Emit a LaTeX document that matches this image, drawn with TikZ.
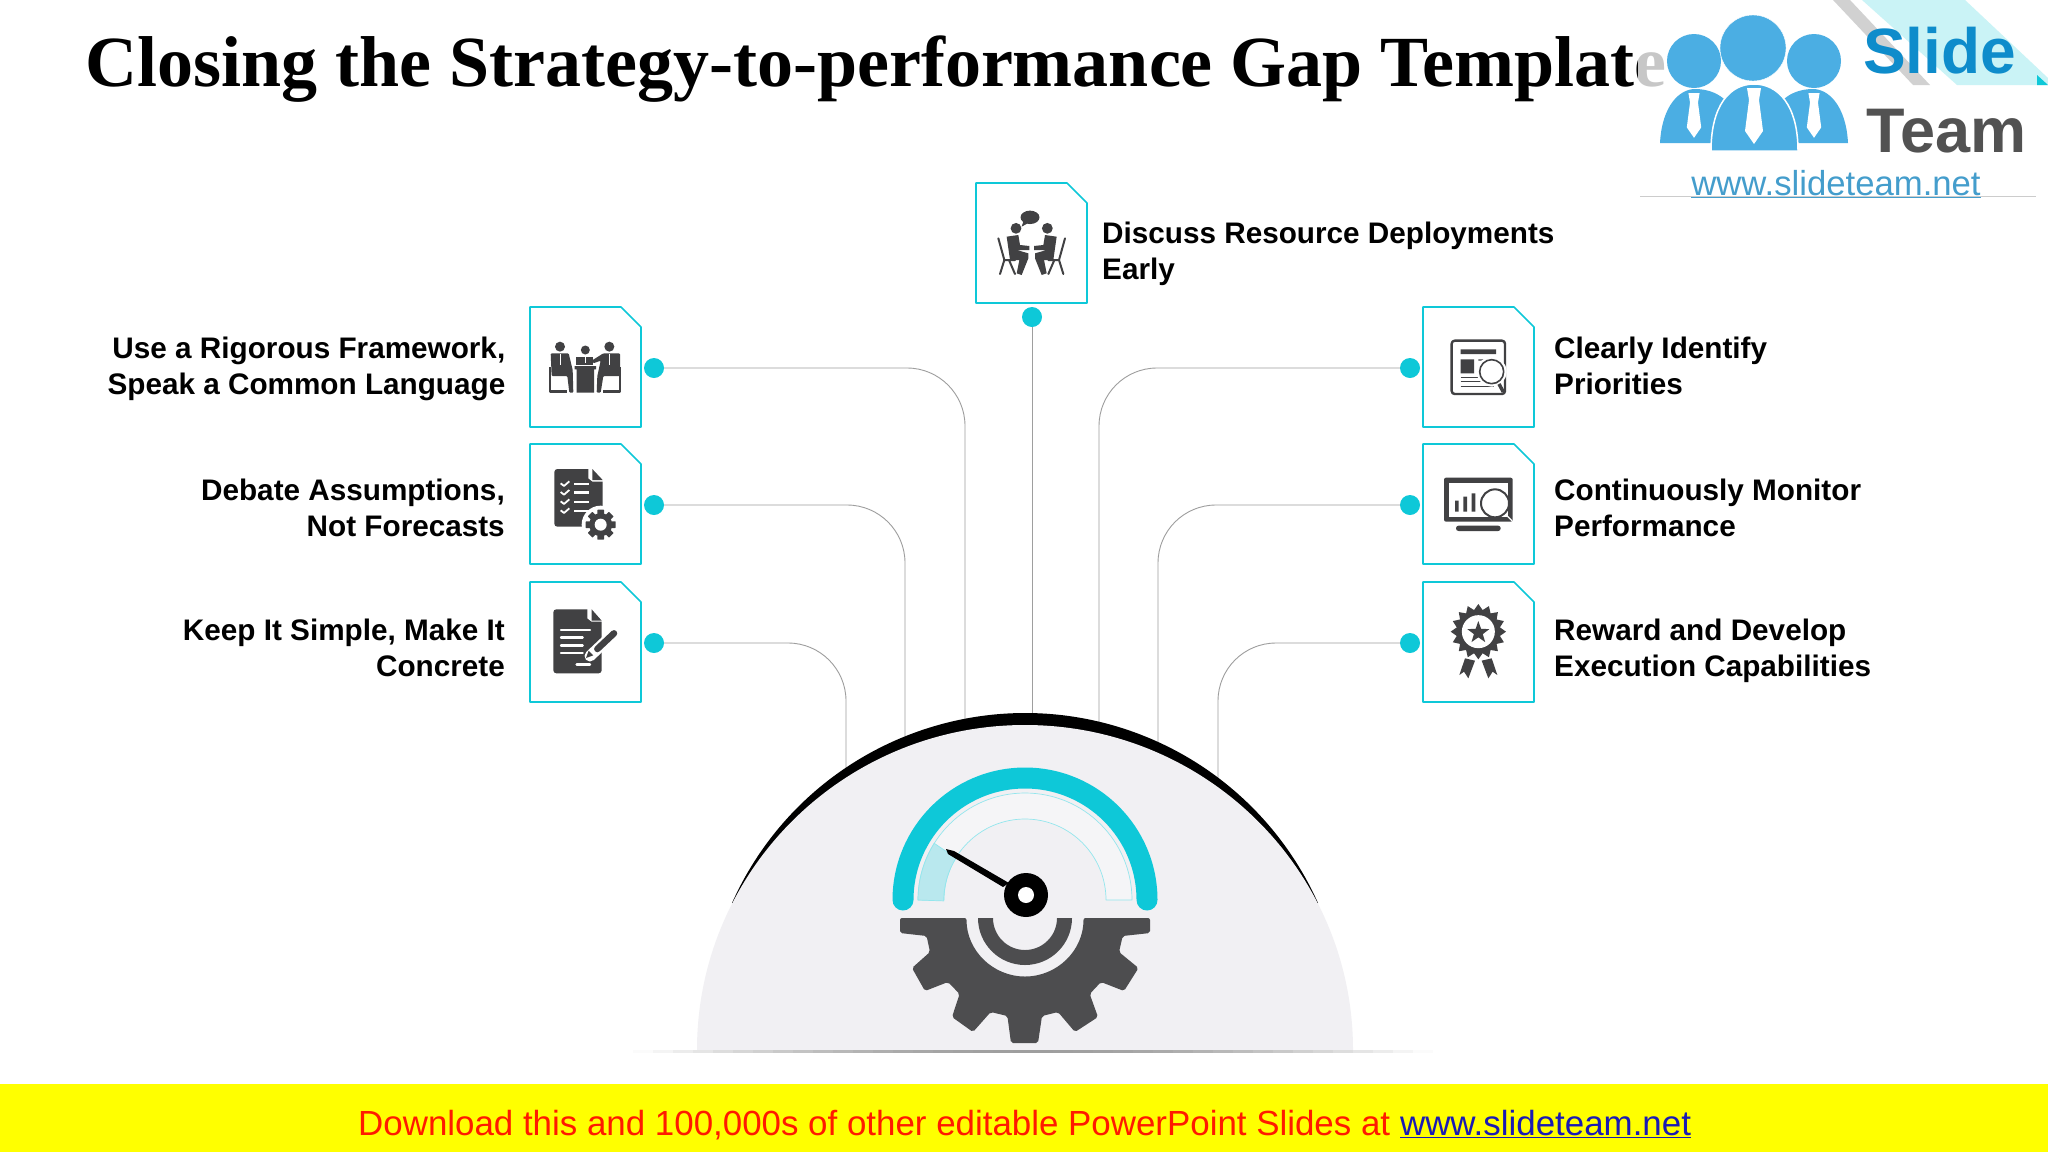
\documentclass[tikz,border=0pt]{standalone}
\usepackage{fontspec}
\newfontfamily\labelfont{Liberation Sans}
\newfontfamily\titlefont{Liberation Serif}
\definecolor{tealc}{HTML}{0EC8D8}
\definecolor{iconc}{HTML}{414143}
\definecolor{gearc}{HTML}{4D4D4F}
\definecolor{domec}{HTML}{F1F0F3}
\definecolor{logoc}{HTML}{4BAEE3}
\definecolor{slidec}{HTML}{0E8CCB}
\definecolor{bandc}{HTML}{B9E8EE}
\definecolor{bannerc}{HTML}{FFFF00}
\definecolor{redc}{HTML}{FF1A00}
\definecolor{linkc}{HTML}{1A1AB4}
\tikzset{
  tile/.style={rectangle,minimum width=111pt,minimum height=120pt,inner sep=0pt,outer sep=0pt},
  tileline/.style={draw=tealc,line width=1.6pt,fill=white},
  dot/.style={circle,fill=tealc,minimum size=20pt,inner sep=0pt,outer sep=0pt},
  wire/.style={draw=black!38,line width=.9pt,rounded corners=58pt},
  txt/.style={font=\labelfont\bfseries\fontsize{29.7}{36}\selectfont,text=black,inner sep=0pt},
  zoomL/.style={shift={(510,290)},x=.33333pt,y=-.33333pt},
  zoomR/.style={shift={(1400,290)},x=.33333pt,y=-.33333pt},
  zoomT/.style={shift={(1031.67,170)},x=.33333pt,y=-.33333pt}
}
\newcommand{\tileedge}[1]{%
  \draw[tileline] (#1.north west) -- ([xshift=-20pt]#1.north east) -- ([yshift=-20pt]#1.north east) -- (#1.south east) -- (#1.south west) -- cycle;}
\newcommand{\seated}{%
  \fill[iconc] (-47,175) circle[radius=5.4pt];
  \fill[iconc] (-75,200) -- (-40,195) -- (-35,225) -- (-7,228) -- (-7,240) -- (-45,240) -- (-10,250) -- (-10,265) -- (-30,315) -- (-45,310) -- (-37,270) -- (-65,270) -- cycle;
  \draw[iconc,line width=2pt,line cap=round] (-100,205) -- (-82,270) -- (-50,270) (-82,270) -- (-95,312) (-68,270) -- (-50,312);
}
\begin{document}
\begin{tikzpicture}[x=1pt,y=-1pt,line join=round]
\useasboundingbox (0,0) rectangle (2048,1152);
\fill[white] (0,0) rectangle (2048,1152);
%% title
\node[font=\titlefont\bfseries\fontsize{72}{72}\selectfont,anchor=base west,inner sep=0pt] (title) at (85,86) {Closing the Strategy-to-performance Gap Template};
%% logo
\fill[white,opacity=.78] (1638,0) rectangle (2048,196);
\fill[tealc!22] (1862,0) -- (1957,85) -- (2048,85) -- (2048,78) -- (1965,0) -- cycle;
\fill[tealc] (2037,75) -- (2048,85) -- (2037,85) -- cycle;
\fill[black!18] (1833,0) -- (1850,0) -- (1930,85) -- (1913,85) -- cycle;
\fill[logoc] (1694,61) circle[radius=27pt] (1814,61) circle[radius=27pt];
\fill[logoc,draw=white] (1753,48) circle[radius=33pt];
\fill[logoc] (1660,143) .. controls (1662,105) and (1680,89) .. (1695,89) .. controls (1710,89) and (1720,95) .. (1725,100) -- (1725,143) -- cycle;
\fill[logoc] (1848,143) .. controls (1846,105) and (1828,89) .. (1813,89) .. controls (1798,89) and (1788,95) .. (1783,100) -- (1783,143) -- cycle;
\fill[logoc,draw=white,line width=1.5pt] (1711,151) .. controls (1711,105) and (1730,84) .. (1754,84) .. controls (1778,84) and (1798,105) .. (1798,151) -- cycle;
\foreach \cx/\cy/\sc in {1754/88/1,1694/93/.8,1814/93/.8}
  \fill[white,shift={(\cx,\cy)},scale=\sc] (-7,0) -- (7,0) -- (5,12) -- (9,43) -- (0,56) -- (-9,43) -- (-5,12) -- cycle;
\node[font=\labelfont\bfseries\fontsize{64}{64}\selectfont,text=slidec,anchor=base west,inner sep=0pt] (slide) at (1863,73) {Slide};
\node[font=\labelfont\bfseries\fontsize{63}{63}\selectfont,text=black!68,anchor=base west,inner sep=0pt] (team) at (1866,152) {Team};
\draw[black!20,line width=.8pt] (1640,196) -- (2036,196);
\node[font=\labelfont\fontsize{34.7}{35}\selectfont,text=logoc!90!black,anchor=base,inner sep=0pt] (logourl) at (1836,195) {\underline{www.slideteam.net}};
%% tiles, dots and wires
\foreach \id/\xb/\xd/\y/\xe/\ye in {A/585.5/654/367/965/719,B/585.5/654/504/905/736,C/585.5/654/642/846/768,D/1478.5/1410/367/1099/722,E/1478.5/1410/504/1158/742,F/1478.5/1410/642/1218/778}{
  \node[tile] (box\id) at (\xb,\y) {};
  \tileedge{box\id}
  \node[dot] (dot\id) at (\xd,\y+1) {};
  \coordinate (end\id) at (\xe,\ye);
  \draw[wire] (dot\id) -- (dot\id -| end\id) -- (end\id);
}
\node[tile] (boxG) at (1031.5,243) {};
\tileedge{boxG}
\node[dot] (dotG) at (1032,317) {};
\coordinate (endG) at (1032,713);
\draw[wire] (dotG) -- (endG);
%% labels
\node[txt,align=right,anchor=east] (textA) at (505.5,368.5) {Use a Rigorous Framework,\\Speak a Common Language};
\node[txt,align=right,anchor=east] (textB) at (505,507.5) {Debate Assumptions,\\Not Forecasts};
\node[txt,align=right,anchor=east] (textC) at (505,648) {Keep It Simple, Make It\\Concrete};
\node[txt,align=left,anchor=west] (textD) at (1554,366) {Clearly Identify\\Priorities};
\node[txt,align=left,anchor=west] (textE) at (1554,507.5) {Continuously Monitor\\Performance};
\node[txt,align=left,anchor=west] (textF) at (1554,651) {Reward and Develop\\Execution Capabilities};
\node[txt,align=left,anchor=west] (textG) at (1102,253.6) {Discuss Resource Deployments\\Early};
%% dome
\fill[black] (732,903) arc[start angle=204.1,end angle=335.9,radius=321] -- cycle;
\fill[domec] (697,1050) arc[start angle=180,end angle=360,x radius=328,y radius=325] -- cycle;
\foreach \i in {0,...,39}
  \fill[black!\fpeval{round(38*sin(pi*(\i+.5)/40),1)}] (633+\i*20,1050) rectangle (653+\i*20,1053);
%% gauge
\fill[domec!70!white,draw=tealc!45,line width=.7pt] (918,900) arc[start angle=180,end angle=360,radius=107] -- (1106,900) arc[start angle=360,end angle=180,radius=81] -- cycle;
\fill[bandc,draw=tealc!45,line width=.7pt] (918,900) arc[start angle=180,end angle=212,radius=107] -- (956,858) arc[start angle=212,end angle=180,radius=81] -- cycle;
\draw[tealc,line width=21pt,line cap=round] (903,900) arc[start angle=180,end angle=360,radius=122];
\fill[black] (946,849) -- (954,851) -- (1009,883) -- (1003,887) -- (948,854) -- cycle;
\fill[black] (1026,895) circle[radius=22pt];
\fill[white] (1026,895) circle[radius=8pt];
%% gear
\fill[gearc,rounded corners=2pt] (900,918) -- (900,933) -- (926.6,936) -- (930,952) -- (912,968) -- (925,991) -- (948,982) -- (959.6,994) -- (952,1017) -- (973,1032) -- (990.7,1012) -- (1007.4,1016) -- (1011,1043) -- (1038,1043) -- (1042,1016) -- (1058,1012) -- (1075,1032) -- (1098,1017) -- (1089.7,994) -- (1101,982) -- (1124,991) -- (1138.5,968) -- (1119,952) -- (1122.7,936) -- (1150,933) -- (1150,918) -- (1083.5,918) arc[start angle=0,end angle=180,radius=58.5] -- cycle;
\fill[gearc] (1072,918) arc[start angle=0,end angle=180,radius=47] -- (993,918) arc[start angle=180,end angle=0,radius=32] -- cycle;
%% left icons
\begin{scope}[zoomL]
  % meeting
  \fill[iconc] (150,170) circle[radius=5pt] (226,180) circle[radius=4.5pt] (298,170) circle[radius=5pt];
  \fill[iconc,rounded corners=1pt] (122,190) -- (176,190) -- (188,240) -- (190,308) -- (178,308) -- (172,258) -- (125,258) -- cycle;
  \fill[iconc,rounded corners=1pt] (330,190) -- (280,190) -- (245,212) -- (250,220) -- (272,212) -- (262,258) -- (260,308) -- (272,308) -- (280,258) -- (330,258) -- cycle;
  \fill[iconc] (197,200) -- (250,200) -- (250,226) -- (197,226) -- cycle;
  \fill[iconc] (194,228) rectangle (258,238) (200,238) rectangle (252,308);
  \draw[white,line width=.7pt] (150,192) -- (150,226) (298,192) -- (298,226) (226,202) -- (226,220);
  \draw[iconc,line width=2.5pt] (120,232) -- (120,304) -- (172,304) (330,232) -- (330,304) -- (278,304);
  % checklist
  \fill[iconc,rounded corners=3pt] (133,537) rectangle (278,710);
  \fill[white] (235,534) -- (282,534) -- (282,575) -- (248,575) -- (235,565) -- cycle;
  \fill[iconc] (247,537) -- (278,570) -- (247,570) -- cycle;
  \foreach \y in {582,608,636,663}{
    \draw[white,line width=1.8pt] (152,\y-2) -- (162,\y+6) -- (178,\y-8);
    \draw[white,line width=2.4pt] (192,\y) -- (238,\y);
  }
  \fill[white] (272,704) circle[radius=19pt];
  \foreach \a in {0,45,...,315}
    \fill[iconc,rotate around={\a:(272,704)},rounded corners=.5pt] (262,659) rectangle (282,680);
  \fill[iconc] (272,704) circle[radius=11.5pt];
  \fill[white] (272,704) circle[radius=6pt];
  % document and pen
  \fill[iconc,rounded corners=3pt] (130,958) rectangle (275,1150);
  \fill[white] (232,955) -- (278,955) -- (278,995) -- (245,995) -- (232,985) -- cycle;
  \fill[iconc] (245,958) -- (275,992) -- (245,992) -- cycle;
  \foreach \ya/\xa/\xe in {1020/153/240,1043/153/218,1066/153/218,1089/153/218,1123/200/240}
    \draw[white,line width=2.4pt,line cap=round] (\xa,\ya) -- (\xe,\ya);
  \draw[white,line width=11pt,line cap=round] (240,1098) -- (312,1030);
  \draw[iconc,line width=6.5pt,line cap=round] (262,1077) -- (312,1030);
  \fill[iconc] (228,1104) -- (236,1082) -- (250,1096) -- cycle;
\end{scope}
%% right icons
\begin{scope}[zoomR]
  % search page
  \draw[iconc,line width=2.4pt,rounded corners=3pt,fill=white] (155,152) rectangle (315,312);
  \fill[iconc] (182,178) rectangle (288,192) (182,208) rectangle (222,250) (235,208) rectangle (250,212);
  \foreach \y/\xe in {262/240,275/250,288/282} \draw[iconc,line width=1pt] (182,\y) -- (\xe,\y);
  \draw[white,line width=6pt] (275,245) circle[radius=12pt];
  \draw[iconc,line width=1.6pt,fill=white] (275,245) circle[radius=12pt];
  \draw[iconc,line width=3.5pt] (297,282) -- (310,306);
  % monitor
  \fill[iconc,rounded corners=2pt] (132,563) rectangle (338,695);
  \fill[white] (148,580) rectangle (325,680);
  \fill[iconc] (165,632) rectangle (176,665) (190,620) rectangle (201,665) (215,610) rectangle (226,665);
  \draw[iconc,line width=2pt,fill=white] (285,640) circle[radius=14pt];
  \fill[iconc,rounded corners=2.5pt] (168,707) rectangle (302,723);
  \draw[white,line width=1.2pt] (316,672) -- (336,692);
  % award
  \fill[iconc] plot[samples at={0,...,31}] ({235+(mod(\x,2)==0?83:66)*cos(\x*11.25)},{1025+(mod(\x,2)==0?83:66)*sin(\x*11.25)}) -- cycle;
  \fill[white] (235,1025) circle[radius=16.5pt];
  \fill[iconc] plot[samples at={0,...,9}] ({235+(mod(\x,2)==0?35:14)*cos(\x*36-90)},{1028+(mod(\x,2)==0?35:14)*sin(\x*36-90)}) -- cycle;
  \fill[iconc] (195,1105) -- (225,1112) -- (205,1165) -- (192,1145) -- (178,1155) -- cycle;
  \fill[iconc] (275,1105) -- (245,1112) -- (265,1165) -- (278,1145) -- (292,1155) -- cycle;
\end{scope}
%% top icon
\begin{scope}[zoomT]
  \fill[iconc] (-5,142) ellipse[x radius=9.5pt,y radius=6.7pt];
  \fill[iconc] (-25,155) -- (-30,170) -- (-12,160) -- cycle;
  \seated
\end{scope}
\begin{scope}[zoomT,xscale=-1]
  \seated
\end{scope}
%% banner
\fill[bannerc] (0,1084) rectangle (2048,1152);
\node[font=\labelfont\fontsize{34.9}{35}\selectfont,text=redc,anchor=base west,inner sep=0pt] (banner) at (358,1135) {Download this and 100,000s of other editable PowerPoint Slides at \textcolor{linkc}{\underline{www.slideteam.net}}};
\end{tikzpicture}
\end{document}
